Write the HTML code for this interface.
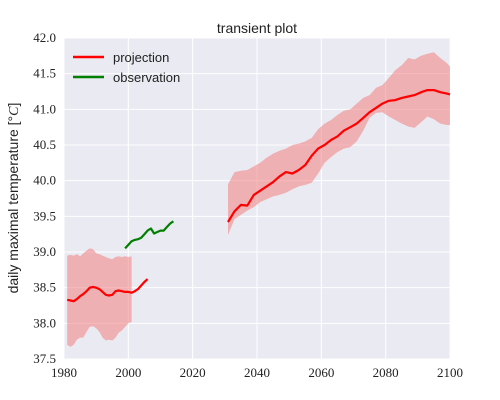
<!DOCTYPE html>
<html><head><meta charset="utf-8"><style>
html,body{margin:0;padding:0;background:#fff;}
svg{display:block;}
.tick{font-family:"Liberation Serif",serif;font-size:13px;fill:#222;}
.sans{font-family:"Liberation Sans",sans-serif;fill:#222;}
</style></head><body>
<svg id="chart" width="500" height="400" viewBox="0 0 500 400">
<rect x="64" y="38" width="386" height="321" fill="#eaeaf2"/>
<g id="grid"></g>
<g id="bands"></g>
<g id="lines"></g>
<g id="ticks"></g>
<text x="257" y="33" text-anchor="middle" class="sans" font-size="14">transient plot</text>
<text transform="translate(18,198) rotate(-90)" text-anchor="middle" class="sans" font-size="14">daily maximal temperature [°<tspan font-family="Liberation Serif" font-style="italic">C</tspan>]</text>
<g>
<line x1="73" y1="57" x2="104" y2="57" stroke="#ff0000" stroke-width="2.5"/>
<text x="113" y="62" class="sans" font-size="13">projection</text>
<line x1="73" y1="77" x2="104" y2="77" stroke="#008000" stroke-width="2.5"/>
<text x="113" y="82" class="sans" font-size="13">observation</text>
</g>
</svg>
<script>
const xTicks=[1980,2000,2020,2040,2060,2080,2100];
const yTicks=[37.5,38.0,38.5,39.0,39.5,40.0,40.5,41.0,41.5,42.0];
const histYears=[1981,1982,1983,1984,1985,1986,1987,1988,1989,1990,1991,1992,1993,1994,1995,1996,1997,1998,1999,2000,2001,2002,2003,2004,2005,2006];
const histMean=[38.33,38.32,38.31,38.34,38.38,38.41,38.45,38.5,38.51,38.5,38.48,38.44,38.4,38.39,38.4,38.45,38.46,38.45,38.44,38.44,38.43,38.45,38.48,38.53,38.58,38.62];
const histBandYears=[1981,1982,1983,1984,1985,1986,1987,1988,1989,1990,1991,1992,1993,1994,1995,1996,1997,1998,1999,2000,2001];
const histUpper=[38.95,38.96,38.95,38.97,38.94,38.98,39.02,39.05,39.04,38.98,38.97,38.95,38.93,38.91,38.9,38.93,38.94,38.93,38.94,38.93,38.94];
const histLower=[37.7,37.67,37.7,37.77,37.8,37.8,37.88,37.95,37.96,37.93,37.88,37.8,37.76,37.77,37.76,37.8,37.87,37.9,37.95,38.0,38.02];
const obsYears=[1999,2000,2001,2002,2003,2004,2005,2006,2007,2008,2009,2010,2011,2012,2013,2014];
const obsValues=[39.05,39.1,39.15,39.17,39.18,39.2,39.25,39.3,39.33,39.26,39.28,39.3,39.3,39.35,39.4,39.43];
const futYears=[2031,2033,2035,2037,2039,2041,2043,2045,2047,2049,2051,2053,2055,2057,2059,2061,2063,2065,2067,2069,2071,2073,2075,2077,2079,2081,2083,2085,2087,2089,2091,2093,2095,2097,2099,2100];
const futMean=[39.42,39.57,39.66,39.65,39.8,39.86,39.92,39.98,40.06,40.12,40.1,40.15,40.22,40.35,40.45,40.5,40.57,40.62,40.7,40.75,40.8,40.88,40.96,41.02,41.08,41.12,41.13,41.16,41.18,41.2,41.24,41.27,41.27,41.24,41.22,41.21];
const futUpper=[39.95,40.12,40.14,40.15,40.2,40.25,40.32,40.38,40.42,40.45,40.5,40.52,40.55,40.6,40.72,40.8,40.85,40.92,40.98,41.0,41.08,41.16,41.2,41.3,41.34,41.44,41.55,41.62,41.72,41.7,41.75,41.78,41.8,41.72,41.65,41.6];
const futLower=[39.24,39.46,39.52,39.58,39.63,39.7,39.74,39.78,39.8,39.83,39.88,39.92,39.94,39.97,40.1,40.25,40.33,40.4,40.45,40.47,40.55,40.7,40.88,40.95,40.96,40.9,40.85,40.8,40.76,40.74,40.82,40.9,40.86,40.8,40.78,40.78];

const NS='http://www.w3.org/2000/svg';
const X0=64,X1=450,Y0=359,Y1=38;
function xs(v){return X0+(v-1980)/(2100-1980)*(X1-X0);}
function ys(v){return Y0-(v-37.5)/(42-37.5)*(Y0-Y1);}
function mk(tag,attrs,parent){const e=document.createElementNS(NS,tag);for(const k in attrs)e.setAttribute(k,attrs[k]);parent.appendChild(e);return e;}
const grid=document.getElementById('grid'),ticks=document.getElementById('ticks'),bands=document.getElementById('bands'),lines=document.getElementById('lines');
xTicks.forEach(t=>{
  const l=mk('line',{x1:xs(t),x2:xs(t),y1:Y1,y2:Y0,stroke:'#fff','stroke-width':1},grid);
  
  
  const tx=mk('text',{x:xs(t),y:377,'text-anchor':'middle',class:'tick'},ticks);
  tx.textContent=t;
  
  
});
yTicks.forEach(t=>{
  const l=mk('line',{x1:X0,x2:X1,y1:ys(t),y2:ys(t),stroke:'#fff','stroke-width':1},grid);
  
  
  const tx=mk('text',{x:56,y:ys(t)+4,'text-anchor':'end',class:'tick'},ticks);
  tx.textContent=t.toFixed(1);
  
  
});
function band(yrs,up,lo,name){
  let d='';
  yrs.forEach((y,i)=>{d+=(i?'L':'M')+xs(y).toFixed(1)+','+ys(up[i]).toFixed(1);});
  for(let i=yrs.length-1;i>=0;i--)d+='L'+xs(yrs[i]).toFixed(1)+','+ys(lo[i]).toFixed(1);
  const p=mk('path',{d:d+'Z',fill:'#f08080','fill-opacity':0.55},bands);
  
  
}
function line(yrs,vals,color,name){
  const pts=yrs.map((y,i)=>xs(y).toFixed(1)+','+ys(vals[i]).toFixed(1)).join(' ');
  const p=mk('polyline',{points:pts,fill:'none',stroke:color,'stroke-width':2.2,'stroke-linejoin':'round'},lines);
  
  
}
band(histBandYears,histUpper,histLower,'historical-range-band');
band(futYears,futUpper,futLower,'future-range-band');
line(histYears,histMean,'#ff0000','historical-projection-line');
line(futYears,futMean,'#ff0000','future-projection-line');
line(obsYears,obsValues,'#008000','observation-line');
</script>
</body></html>
